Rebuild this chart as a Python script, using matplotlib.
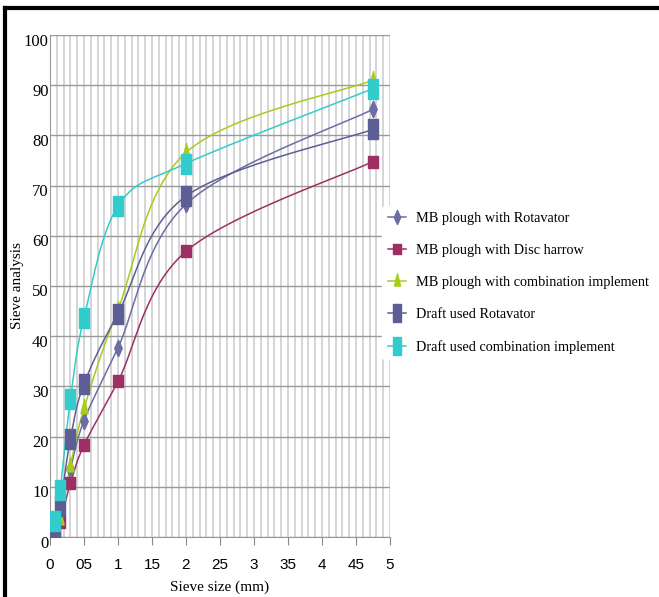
import numpy as np
import matplotlib
matplotlib.use("Agg")
import matplotlib.pyplot as plt
import matplotlib.transforms as mtransforms
from matplotlib.ticker import MultipleLocator, FixedLocator

plt.rcParams['font.family'] = ['Liberation Serif', 'DejaVu Serif']

# sieve sizes (mm)
sieve = [0.075, 0.15, 0.3, 0.5, 1.0, 2.0, 4.75]

mb_rotavator = [1.0, 5.0, 13.5, 23.2, 37.7, 66.3, 85.2]
mb_disc = [0.5, 3.0, 10.7, 18.3, 31.0, 56.9, 74.8]
mb_combination = [0.5, 3.6, 14.2, 25.6, 45.3, 76.6, 91.0]
draft_rotavator = [1.2, 6.2, 19.6, 30.5, 44.5, 67.9, 81.2]
draft_combination = [3.2, 9.4, 27.4, 43.7, 65.9, 74.4, 89.3]

labels = ['MB plough with Rotavator', 'MB plough with Disc harrow',
          'MB plough with combination implement', 'Draft used Rotavator',
          'Draft used combination implement']
xtick_labels = ['0', '05', '1', '15', '2', '25', '3', '35', '4', '45', '5']

colors = ['#6c6ca6', '#9e2f65', '#a6cc1c', '#5e5e96', '#33cccc']

tall_rect = [(-1, -2), (1, -2), (1, 2), (-1, 2), (-1, -2)]
small_rect = [(-1, -1.3), (1, -1.3), (1, 1.3), (-1, 1.3), (-1, -1.3)]
tall_diamond = [(0, -2), (0.9, 0), (0, 2), (-0.9, 0), (0, -2)]
tall_tri = [(-0.8, -1.2), (0.8, -1.2), (0, 2), (-0.8, -1.2)]
markers = [tall_diamond, small_rect, tall_tri, tall_rect, tall_rect]
msizes = [12, 9, 13, 15, 15]


def smooth(xs, ys, n=30):
    # Excel-style smoothed line (Catmull-Rom through the data points)
    sx, sy = 68.0, 5.02
    p = np.column_stack([np.array(xs) * sx, np.array(ys) * sy])
    p = np.vstack([p[0], p, p[-1]])
    out = []
    t = np.linspace(0, 1, n)[:, None]
    for i in range(1, len(p) - 2):
        p0, p1, p2, p3 = p[i - 1], p[i], p[i + 1], p[i + 2]
        seg = 0.5 * ((2 * p1) + (-p0 + p2) * t + (2 * p0 - 5 * p1 + 4 * p2 - p3) * t ** 2
                     + (-p0 + 3 * p1 - 3 * p2 + p3) * t ** 3)
        out.append(seg)
    out = np.vstack(out)
    return out[:, 0] / sx, out[:, 1] / sy


fig = plt.figure(figsize=(6.59, 5.97), dpi=100)
ax = fig.add_axes([50 / 659, 1 - 537 / 597, 340 / 659, 502 / 597])

series = [mb_rotavator, mb_disc, mb_combination, draft_rotavator, draft_combination]
for vals, lab, c, m, ms in zip(series, labels, colors, markers, msizes):
    cx, cy = smooth(sieve, vals)
    ax.plot(cx, cy, color=c, lw=1.1, zorder=3)
    ax.plot(sieve, vals, ls='none', marker=m, ms=ms, color=c, mec=c, zorder=4)
    ax.plot([], [], color=c, lw=1.1, marker=m, ms=ms * 0.85, mec=c, label=lab)

ax.set_xlim(0, 5)
ax.set_ylim(0, 100)
ax.xaxis.set_major_locator(FixedLocator(np.arange(0, 5.01, 0.5)))
ax.xaxis.set_minor_locator(MultipleLocator(0.1))
ax.set_xticklabels(xtick_labels, family='Liberation Sans', fontsize=11)
ax.yaxis.set_major_locator(MultipleLocator(10))
ax.tick_params(axis='y', labelsize=12, length=0, pad=1)
ax.tick_params(axis='x', which='major', length=6, pad=9, color='#888888')
ax.tick_params(axis='x', which='minor', length=0)
ax.grid(axis='x', which='minor', color='#d2d2d2', lw=1.3)
ax.grid(axis='x', which='major', color='#d2d2d2', lw=1.3)
ax.grid(axis='y', which='major', color='#9a9a9a', lw=1.0)
for s in ['top', 'right']:
    ax.spines[s].set_visible(False)
ax.spines['left'].set_color('#999999')
ax.spines['bottom'].set_color('#999999')
ax.set_axisbelow(True)

# y tick labels sit a little below their grid lines
shift = mtransforms.ScaledTranslation(0, -0.045, fig.dpi_scale_trans)
for t in ax.get_yticklabels():
    t.set_transform(t.get_transform() + shift)

ax.set_xlabel('Sieve size (mm)', fontsize=11, labelpad=6)
ax.set_ylabel('Sieve analysis', fontsize=11)
ax.yaxis.set_label_coords(-0.076, 0.5)

leg = fig.legend(loc='upper left', bbox_to_anchor=(382 / 659, 1 - 206 / 597),
                 frameon=True, fontsize=10.3, handlelength=1.3, handletextpad=0.7,
                 labelspacing=1.33, borderaxespad=0, borderpad=0.4)
leg.get_frame().set_facecolor('white')
leg.get_frame().set_edgecolor('white')
leg.get_frame().set_alpha(1)

# outer frame (left and top edges visible)
fig.add_artist(plt.Line2D([5 / 659, 5 / 659], [0, 1 - 8 / 597], transform=fig.transFigure,
                          color='black', lw=3))
fig.add_artist(plt.Line2D([5 / 659, 1], [1 - 8 / 597, 1 - 8 / 597], transform=fig.transFigure,
                          color='black', lw=3))

fig.savefig('out.png', dpi=100)
